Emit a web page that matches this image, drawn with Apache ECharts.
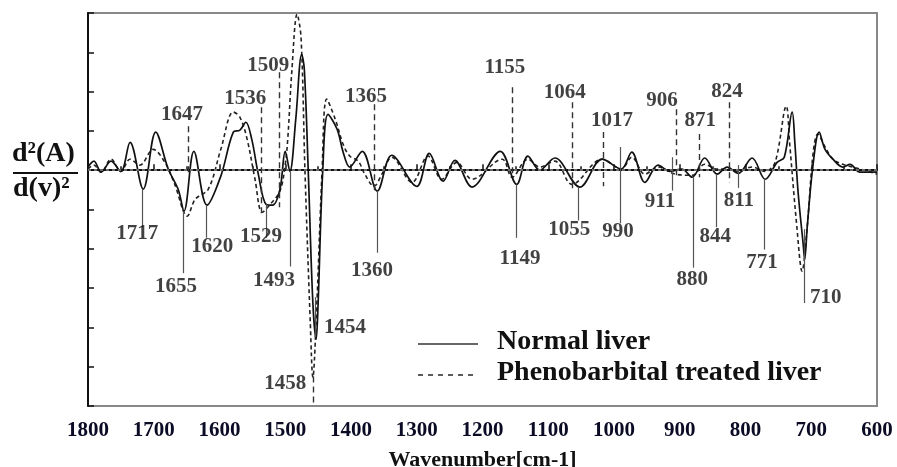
<!DOCTYPE html>
<html>
<head>
<meta charset="utf-8">
<script src="https://cdn.jsdelivr.net/npm/echarts@6/dist/echarts.min.js"></script>
<style>
html,body{margin:0;padding:0;background:#fff;}
#c{width:897px;height:467px;}
</style>
</head>
<body>
<div id="c"></div>
<script>
// ---------------- data ----------------
var xTicks = [1800, 1700, 1600, 1500, 1400, 1300, 1200, 1100, 1000, 900, 800, 700, 600];
var seriesNames = ['Normal liver', 'Phenobarbital treated liver'];

var normalW = [1800,1791,1780,1765,1750,1736,1716,1697,1678,1663,1654,1639,1619,1598,1579,1569,1560,1551,1541,1529,1519,1508,1500,1493,1484,1475,1471,1465,1458,1453,1450,1443,1435,1421,1412,1402,1383,1360,1338,1300,1281,1260,1242,1216,1173,1148,1131,1113,1090,1052,1018,989,973,953,933,915,897,881,862,843,828,811,790,770,752,741,729,725,720,712,710,706,698,688,679,667,652,641,626,600];
var normalV = [0.08,0.23,-0.05,0.23,-0.03,0.71,-0.48,0.97,0.03,-0.48,-1.04,0.48,-0.89,-0.15,0.97,1.02,1.22,0.79,-0.10,-0.87,-0.89,-0.48,0.48,-0.03,1.30,2.95,2.57,-0.03,-3.38,-4.30,-3.38,-0.03,1.42,1.04,0.46,0.08,0.48,-0.53,0.38,-0.41,0.43,-0.28,0.25,-0.43,0.48,-0.36,0.36,0.00,0.31,-0.43,0.28,0.03,0.46,-0.31,0.13,-0.03,0.03,-0.18,0.31,-0.10,0.08,-0.08,0.31,-0.23,0.20,0.33,1.48,0.71,-0.56,-1.93,-2.27,-1.42,0.03,0.97,0.53,0.28,0.08,0.15,-0.05,-0.05];

var treatedW = [1800,1791,1780,1765,1750,1736,1721,1701,1683,1668,1649,1637,1617,1598,1579,1569,1558,1546,1535,1523,1508,1500,1496,1490,1482,1476,1470,1462,1458,1452,1444,1437,1424,1412,1402,1389,1379,1365,1353,1338,1307,1283,1262,1239,1216,1170,1155,1131,1113,1090,1064,1018,989,973,953,933,907,881,862,843,828,811,790,770,755,738,733,722,714,706,697,690,679,667,652,626,600];
var treatedV = [0.03,0.13,-0.05,0.28,-0.03,0.28,0.13,0.53,0.20,-0.36,-1.17,-0.74,-0.48,0.53,1.48,1.35,0.79,-0.23,-1.07,-0.87,-0.53,0.15,0.84,2.52,3.97,3.38,-0.03,-3.84,-5.27,-3.41,-0.03,1.81,1.30,0.66,0.36,0.23,-0.10,-0.41,-0.10,0.33,-0.31,0.36,-0.23,0.20,-0.23,0.28,-0.18,0.28,0.08,0.23,-0.36,0.28,0.03,0.33,-0.10,0.08,-0.10,-0.13,0.15,0.03,0.03,-0.03,0.08,-0.03,0.20,1.63,0.71,-1.42,-2.57,-1.42,0.46,0.92,0.59,0.28,0.15,0.03,-0.10];

// peak annotations (wavenumber labels)
var dashedPeaks = [1647, 1536, 1509, 1365, 1155, 1064, 1017, 906, 871, 824, 1458];
var solidPeaks  = [1717, 1655, 1620, 1529, 1493, 1454, 1360, 1149, 1055, 990, 911, 880, 844, 811, 771, 710];

// ---------------- annotation layout ----------------
// [lineTop, lineBottom, labelW, labelV]
var dashedLayout = [
  [1.12,-0.10,1657,1.42],[1.60,-1.12,1561,1.81],[2.49,-0.94,1526,2.65],[1.68,-0.53,1377,1.88],
  [2.11,-0.10,1166,2.62],[1.73,-0.56,1075,1.98],[0.97,-0.41,1003,1.25],[1.55,-0.23,927,1.78],
  [0.92,-0.18,869,1.25],[1.73,-0.31,828,2.01],[-5.25,-6.0,1500,-5.42]
];
var solidLayout = [
  [-0.48,-1.45,1725,-1.62],[-1.04,-2.62,1666,-2.97],[-0.89,-1.72,1611,-1.95],[-0.87,-1.72,1537,-1.70],
  [-0.03,-2.45,1517,-2.82],[-3.23,-4.25,1409,-4.00],[-0.53,-2.10,1368,-2.56],[-0.36,-1.72,1143,-2.26],
  [-0.43,-1.28,1068,-1.52],[0.59,-1.35,994,-1.57],[0.33,-0.52,930,-0.81],[-0.18,-2.48,881,-2.79],
  [-0.10,-1.45,846,-1.70],[0.13,-0.45,810,-0.78],[-0.23,-2.02,775,-2.34],[-1.50,-3.38,678,-3.23]
];

function zip(a, b){ return a.map(function(v,i){ return [v, b[i]]; }); }

var serif = "'Liberation Serif','Times New Roman',serif";

var markLines = [];
var labelPts = [];
dashedPeaks.forEach(function(p,i){
  var L = dashedLayout[i];
  markLines.push([{coord:[p, L[0]], lineStyle:{type:[6,4], color:'#333', width:1.4}}, {coord:[p, L[1]]}]);
  labelPts.push([L[2], L[3], String(p)]);
});
solidPeaks.forEach(function(p,i){
  var L = solidLayout[i];
  markLines.push([{coord:[p, L[0]], lineStyle:{type:'solid', color:'#555', width:1.2}}, {coord:[p, L[1]]}]);
  labelPts.push([L[2], L[3], String(p)]);
});

var chart = echarts.init(document.getElementById('c'), null, {renderer:'canvas'});
chart.setOption({
  animation: false,
  backgroundColor: '#fff',
  grid: {left: 88, right: 20, top: 13, bottom: 61, show: true, borderColor: '#888', borderWidth: 2,
         containLabel: false, outerBoundsMode: 'none'},
  xAxis: {
    type: 'value', inverse: true, min: 600, max: 1800, interval: 100,
    name: 'Wavenumber[cm-1]', nameLocation: 'middle', nameGap: 43,
    nameTextStyle: {fontFamily: serif, fontWeight: 'bold', fontSize: 22, color: '#111'},
    axisLine: {show: true, lineStyle: {color: '#111', width: 2}},
    axisTick: {show: true, inside: true, length: 6, lineStyle: {color: '#111', width: 1.5}},
    minorTick: {show: true, splitNumber: 2, length: 4, lineStyle: {color: '#111', width: 1.5}},
    splitLine: {show: false},
    axisLabel: {fontFamily: serif, fontWeight: 'bold', fontSize: 21, color: '#0b0b26', margin: 14,
      formatter: function(v){ return xTicks.indexOf(v) >= 0 ? String(v) : ''; }}
  },
  yAxis: {
    type: 'value', min: -6, max: 4, interval: 1,
    axisLine: {show: true, lineStyle: {color: '#111', width: 2}},
    axisTick: {show: true, inside: true, length: 6, lineStyle: {color: '#111', width: 1.5}},
    axisLabel: {show: false},
    splitLine: {show: false}
  },
  graphic: [
    {type: 'text', left: 12, top: 140, style: {text: 'd\u00B2(A)', font: 'bold 28px ' + serif, fill: '#111'}},
    {type: 'line', shape: {x1: 13, y1: 173, x2: 78, y2: 173}, style: {stroke: '#111', lineWidth: 2}},
    {type: 'text', left: 13, top: 175, style: {text: 'd(v)\u00B2', font: 'bold 28px ' + serif, fill: '#111'}},
    // legend
    {type: 'line', shape: {x1: 418, y1: 344, x2: 478, y2: 344}, style: {stroke: '#333', lineWidth: 1.6}},
    {type: 'line', shape: {x1: 418, y1: 375, x2: 478, y2: 375}, style: {stroke: '#333', lineWidth: 1.6, lineDash: [5,5]}},
    {type: 'text', x: 497, y: 342, style: {text: seriesNames[0], font: 'bold 28px ' + serif, fill: '#111', verticalAlign: 'middle'}},
    {type: 'text', x: 497, y: 373, style: {text: seriesNames[1], font: 'bold 28px ' + serif, fill: '#111', verticalAlign: 'middle'}}
  ],
  series: [
    {
      name: seriesNames[0], type: 'line', data: zip(normalW, normalV),
      smooth: 0.35, showSymbol: false, symbol: 'none',
      lineStyle: {color: '#111', width: 1.7, type: 'solid'}, itemStyle: {color: '#111'},
      z: 3,
      markLine: {
        silent: true, symbol: ['none','none'], label: {show: false},
        data: [[{coord:[1800, 0], lineStyle:{type:[3,3], color:'#888', width:1.5}}, {coord:[600, 0]}]].concat(markLines)
      }
    },
    {
      name: seriesNames[1], type: 'line', data: zip(treatedW, treatedV),
      smooth: 0.35, showSymbol: false, symbol: 'none',
      lineStyle: {color: '#222', width: 1.6, type: [4,3]}, itemStyle: {color: '#222'},
      z: 2
    },
    {
      name: 'labels', type: 'scatter', data: labelPts, symbol: 'circle', symbolSize: 1,
      itemStyle: {color: 'rgba(0,0,0,0)'}, silent: true, z: 5,
      label: {show: true, position: 'inside', formatter: function(p){ return p.data[2]; },
        fontFamily: serif, fontWeight: 'bold', fontSize: 21, color: '#111'}
    }
  ]
});
</script>
</body>
</html>
